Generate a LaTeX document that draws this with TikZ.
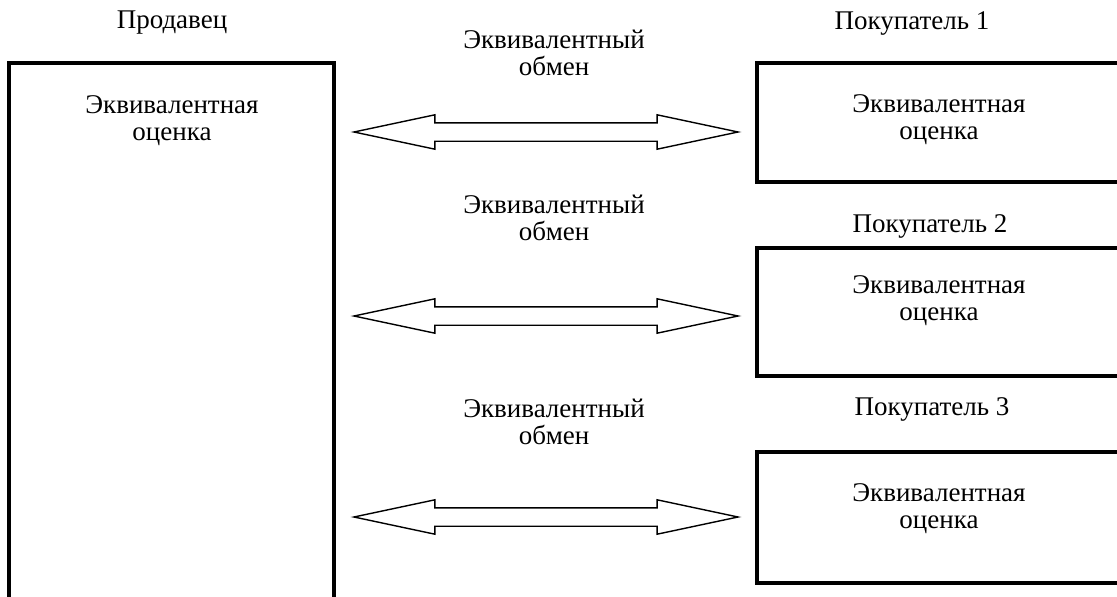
\documentclass[tikz,border=0pt]{standalone}
\usepackage{fontspec}
\setmainfont{Liberation Serif}
\usetikzlibrary{shapes.arrows}
\tikzset{
    frame/.style={draw, line width=3.5pt, outer sep=0, inner sep=0, anchor=north west},
    swap/.style={draw, line width=1.4pt, double arrow, double arrow tip angle=24,
        double arrow head extend=8pt, minimum height=384pt, inner xsep=0, inner ysep=8.5pt},
    note/.style={align=center, anchor=base, inner sep=0}
}
\begin{document}
\begin{tikzpicture}[x=1pt, y=-1pt, font=\fontsize{27}{27}\selectfont]
    \clip (0,0) rectangle (1117,597);
    \node[frame, minimum width=325pt, minimum height=560pt] (seller) at (9,63) {};
    \node[frame, minimum width=364pt, minimum height=119pt] (buyer1) at (757,63) {};
    \node[frame, minimum width=364pt, minimum height=128pt] (buyer2) at (757,248) {};
    \node[frame, minimum width=364pt, minimum height=131pt] (buyer3) at (757,452) {};
    \node[note] (sellertitle) at (172,28) {Продавец};
    \node[note] (sellerval) at (172,140) {Эквивалентная\\оценка};
    \node[note] (buyer1title) at (912,29) {Покупатель 1};
    \node[note] (buyer2title) at (930,232) {Покупатель 2};
    \node[note] (buyer3title) at (932,415) {Покупатель 3};
    \node[note] (buyer1val) at (939,139) {Эквивалентная\\оценка};
    \node[note] (buyer2val) at (939,320) {Эквивалентная\\оценка};
    \node[note] (buyer3val) at (939,528) {Эквивалентная\\оценка};
    \node[note] (deal1) at (554,75) {Эквивалентный\\обмен};
    \node[note] (deal2) at (554,240) {Эквивалентный\\обмен};
    \node[note] (deal3) at (554,444) {Эквивалентный\\обмен};
    \node[swap] (swap1) at (546,132) {};
    \node[swap] (swap2) at (546,316) {};
    \node[swap] (swap3) at (546,517) {};
\end{tikzpicture}
\end{document}
